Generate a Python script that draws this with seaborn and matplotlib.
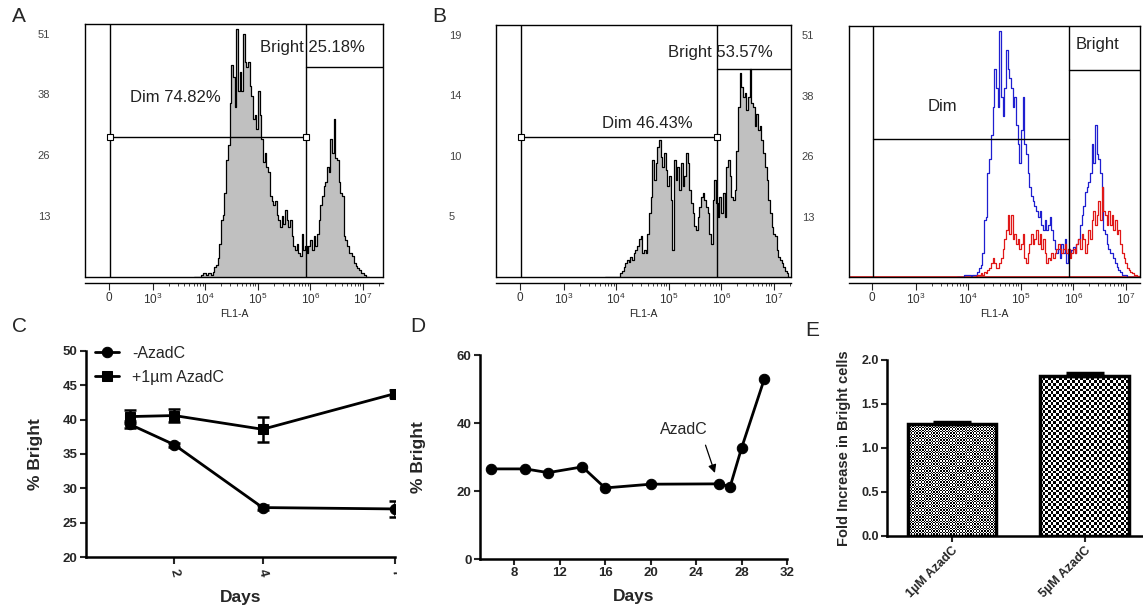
import numpy as np
import pandas as pd
import matplotlib
matplotlib.use("Agg")
import matplotlib.pyplot as plt
import seaborn as sns
from matplotlib.ticker import FixedLocator
from matplotlib.transforms import Bbox, TransformedBbox

sns.set_theme(style="ticks")
plt.rcParams["font.family"] = ["Liberation Sans", "DejaVu Sans"]
plt.rcParams["mathtext.fontset"] = "custom"
plt.rcParams["mathtext.rm"] = "Liberation Sans"
plt.rcParams["mathtext.it"] = "Liberation Sans:italic"
plt.rcParams["mathtext.bf"] = "Liberation Sans:bold"

# %% 1. Data

# FL1-A histograms: events per channel, channels 0.032 decades wide starting at 10^3.79
hist_log_start = 3.79
hist_log_step = 0.032

counts_A = [0, 0, 0, 0, 0.5, 0.8, 0.8, 0.5, 0.8, 0.8, 0.5, 1.0, 2.0, 2.5, 4, 7, 12, 13,
            17.5, 24.5, 27.7, 36.4, 44.5, 42, 35.7, 52, 39, 43, 39, 51, 45, 44, 45, 40,
            38, 33, 34, 31, 39, 34, 29, 24, 26, 23, 22, 17, 16, 15, 16, 13, 12, 10.5,
            12.7, 11, 14, 12, 10.5, 12, 8.5, 6.4, 5.7, 7, 5, 4.3, 9, 5.7, 6.4, 5, 6.4,
            7.8, 5.7, 8.5, 6.4, 9, 12, 15, 17, 19, 20, 23, 22, 29, 26, 33, 25, 24.5, 20,
            17.5, 17, 8.5, 7.8, 6.4, 5, 5, 4.3, 3, 2.2, 1.8, 1.5, 0.8, 0.8, 0.4, 0, 0]

counts_B = [0, 0, 0, 0, 0, 0, 0, 0, 0, 0.3, 0.5, 0.8, 1.1, 1.3, 1.2, 1.6, 1.3, 1.9, 2.1,
            2.4, 3.0, 3.2, 1.9, 2.1, 1.9, 3.4, 5.0, 6.3, 9.2, 7.6, 8.9, 10.2, 10.7, 9.4,
            8.6, 9.7, 8.4, 7.1, 7.9, 6.0, 2.1, 9.2, 7.6, 8.6, 6.8, 8.9, 7.1, 7.9, 9.7,
            8.9, 6.8, 5.8, 5.0, 4.0, 3.7, 4.7, 5.5, 6.3, 6.6, 6.0, 5.5, 5.0, 3.4, 2.6,
            6.0, 7.6, 5.8, 4.7, 6.3, 5.0, 6.6, 4.7, 8.6, 9.2, 7.9, 6.3, 6.0, 6.8, 9.9,
            13.3, 16.0, 14.9, 14.1, 14.4, 13.1, 14.1, 16.3, 13.6, 13.3, 11.8, 12.8, 11.5,
            11.8, 10.7, 9.7, 8.6, 7.6, 6.0, 5.0, 3.9, 3.4, 3.2, 2.1, 1.6, 1.3, 1.1, 0.8,
            0.5, 0.3, 0]

# overlay panel: untreated (blue) and AzadC treated (red)
counts_overlay_ctrl = [0, 0, 0, 0, 0.4, 0.4, 0.4, 0.4, 0.2, 0.5, 0.5, 0.5, 1.0, 2.0, 2.5, 5,
                       12, 12.6, 22, 25, 30, 36, 44, 40, 36, 52, 38, 34, 40, 48, 44, 42, 40,
                       36, 38, 32, 28, 24, 31, 38, 28, 26, 22, 19, 17, 16, 15, 14, 12.6, 14,
                       11, 10, 12, 10, 11, 12.6, 10, 7.8, 6, 5, 6, 4, 7, 5, 8, 3, 6, 5, 5.6,
                       6.4, 5, 7, 8, 11, 13, 15, 18, 19, 20, 22, 28, 24, 32, 26, 25, 22, 19,
                       10, 9, 7, 6, 5, 5, 4, 3, 2.2, 1.5, 1, 0.5, 0.4, 0.4, 0,
                       0, 0, 0, 0, 0, 0, 0, 0, 0]
counts_overlay_aza = [0, 0, 0, 0, 0, 0, 0, 0, 0, 0, 0, 0.2, 0.5, 0.5, 0.8, 0.5, 1.0, 0.8,
                      1.4, 2, 3, 4, 3, 2, 2, 3, 4, 6, 8, 10, 13, 9, 13, 8, 9, 7, 8, 6, 7, 9,
                      4, 3, 5, 7, 9, 7, 8, 10, 7, 9, 6, 8, 5, 3, 4, 3.5, 5, 4, 5, 6, 7, 6,
                      5, 6, 7, 5, 6, 4, 5, 6, 5, 7, 8, 6, 9, 8, 5, 7, 10, 8, 12, 14, 11, 13,
                      16, 12, 19, 14, 13, 11, 14, 11, 13, 10, 12, 9, 10, 7, 5, 4, 3, 2, 1.5,
                      1, 0.8, 0.5, 0.5, 0.3, 0.3, 0.5, 0.3]

flow_xticks = [0, 1e3, 1e4, 1e5, 1e6, 1e7]
flow_xticklabels = ["0", "$10^3$", "$10^4$", "$10^5$", "$10^6$", "$10^7$"]
yticklabels_A = ["13", "26", "38", "51"]
yticklabels_B = ["5", "10", "14", "19"]

# gates
gate_dim_start = 25
gate_bright_start = 8.3e5
gate_text_A = ["Dim 74.82%", "Bright 25.18%"]
gate_text_B = ["Dim 46.43%", "Bright 53.57%"]
gate_text_overlay = ["Dim", "Bright"]

# C: % bright cells over time
days_c = [1, 2, 4, 7]
ctrl_mean = [39.3, 36.35, 27.2, 27.0]
ctrl_err = [0.5, 0.3, 0.3, 1.2]
aza_mean = [40.45, 40.6, 38.6, 43.8]
aza_err = [0.95, 0.9, 1.8, 0.5]
series_c = ["-AzadC", "+1\u00b5m AzadC"]

# D: long time course
days_d = [6, 9, 11, 14, 16, 20, 26, 27, 28, 30]
bright_d = [26.5, 26.5, 25.4, 27.1, 20.9, 22.0, 22.1, 21.3, 32.6, 52.9]

# E: fold increase
conc_labels = ["1\u00b5M AzadC", "5\u00b5M AzadC"]
fold_mean = [1.27, 1.82]
fold_err = [0.025, 0.03]

# %% 2. Layout helpers
W, H = 1143, 607
fig = plt.figure(figsize=(W / 100, H / 100), dpi=100)


def px_rect(l, t, r, b):
    return [l / W, 1 - b / H, (r - l) / W, (b - t) / H]


def hist_edges(n):
    return 10 ** (hist_log_start + hist_log_step * np.arange(n + 1))


def flow_panel(rect, xlim, ylim, ylabels, hists, gate_y, texts, text_pos, squares):
    ax = fig.add_axes(px_rect(*rect))
    for counts, color, filled in hists:
        edges = hist_edges(len(counts))
        steps = list(counts) + [counts[-1]]
        if filled:
            ax.fill_between(edges, steps, step="post", color="#c0c0c0", lw=0)
        sns.lineplot(x=edges, y=steps, drawstyle="steps-post", color=color, linewidth=0.9,
                     estimator=None, sort=False, ax=ax)
    ax.set_xscale("symlog", linthresh=1e3, linscale=0.75)
    ax.set_xlim(*xlim)
    ax.set_ylim(*ylim)
    ax.set_xlabel("FL1-A", fontsize=7.5, labelpad=1, color="#222")
    ax.set_ylabel("")

    # gates
    dim_y, bright_y = gate_y
    ax.axvline(gate_dim_start, color="black", lw=1)
    ax.axvline(gate_bright_start, color="black", lw=1)
    ax.plot([gate_dim_start, gate_bright_start], [dim_y, dim_y], color="black", lw=1)
    ax.plot([gate_bright_start, xlim[1]], [bright_y, bright_y], color="black", lw=1)
    if squares:
        ax.plot([gate_dim_start, gate_bright_start], [dim_y, dim_y], ls="none", marker="s",
                ms=4, mfc="white", mec="black", mew=0.8)
    for txt, (fx, fy) in zip(texts, text_pos):
        ax.text(fx, fy, txt, transform=ax.transAxes, fontsize=12, ha="left", va="center",
                color="#222")

    # axes
    for s in ax.spines.values():
        s.set_linewidth(1)
        s.set_color("black")
    ax.spines["bottom"].set_position(("outward", 4))
    ax.plot([0, 1], [0, 0], transform=ax.transAxes, color="black", lw=1, clip_on=False)
    ax.xaxis.set_major_locator(FixedLocator(flow_xticks))
    ax.set_xticklabels(flow_xticklabels)
    ax.xaxis.set_minor_locator(FixedLocator([k * 10 ** d for d in range(3, 8) for k in range(2, 10)]))
    ax.tick_params(axis="x", which="major", direction="out", length=5, width=0.8,
                   labelsize=8.5, labelcolor="#333", pad=2, bottom=True)
    ax.tick_params(axis="x", which="minor", direction="out", length=2.5, width=0.6, bottom=True)
    top = float(ylabels[-1])
    ax.set_yticks([top * k / 4 for k in range(1, 5)])
    ax.set_yticklabels(ylabels)
    ax.tick_params(axis="y", length=0, pad=34, labelsize=8, labelcolor="#444", left=True)
    for lab in ax.get_yticklabels():
        lab.set_horizontalalignment("left")
    return ax


# %% 3. Flow histograms (A, B, overlay)
flow_panel((85, 24, 383, 277), (-549, 2.43e7), (0, 53), yticklabels_A,
           [(counts_A, "black", True)], (29.3, 44.0), gate_text_A,
           [(0.151, 0.711), (0.587, 0.909)], True)
flow_panel((496, 25, 791, 277), (-549, 2.13e7), (0, 19.75), yticklabels_B,
           [(counts_B, "black", True)], (11.0, 16.3), gate_text_B,
           [(0.359, 0.611), (0.583, 0.889)], True)
ax_ov = flow_panel((849, 26, 1140, 277), (-526, 1.87e7), (0, 53), yticklabels_A,
                   [(counts_overlay_ctrl, "#1f1fd0", False), (counts_overlay_aza, "#e01818", False)],
                   (29.1, 43.7), gate_text_overlay, [(0.271, 0.681), (0.780, 0.928)], False)
ax_ov.axhline(0, color="#e01818", lw=1.2, zorder=0.5)

bold_font = dict(fontsize=12.5, fontweight="bold")

# %% 4. Panel C
ax_c = fig.add_axes(px_rect(86, 351, 395, 557))
df_c = pd.DataFrame({"day": days_c * 2, "bright": ctrl_mean + aza_mean,
                     "err": ctrl_err + aza_err,
                     "group": [series_c[0]] * 4 + [series_c[1]] * 4})
sns.lineplot(data=df_c, x="day", y="bright", style="group", markers=["o", "s"], dashes=False,
             color="black", linewidth=2, markersize=7.5, markeredgecolor="black", ax=ax_c)
for g, d in df_c.groupby("group"):
    ax_c.errorbar(d["day"], d["bright"], yerr=d["err"], fmt="none", ecolor="black",
                  elinewidth=1.8, capsize=4, capthick=1.8)
ax_c.legend(loc="upper left", bbox_to_anchor=(0.03, 1.025), frameon=False, fontsize=11.5,
            handlelength=1.5, handletextpad=0.8, labelspacing=0.55, borderaxespad=0,
            borderpad=0)
ax_c.set_xlim(0, 7)
ax_c.set_ylim(20, 50)
ax_c.set_xticks([2, 4, 7])
ax_c.set_yticks(range(20, 51, 5))
ax_c.set_xlabel("Days", labelpad=8, **bold_font)
ax_c.set_ylabel("% Bright", labelpad=14, **bold_font)
ax_c.tick_params(axis="x", rotation=-75, labelsize=9.5, length=5, width=1.5, pad=3)
ax_c.tick_params(axis="y", labelsize=9.5, length=4, width=1.5, pad=2)
clip = TransformedBbox(Bbox([[0, 0], [397 / W, 1]]), fig.transFigure)
for lab in ax_c.get_xticklabels():
    lab.set_clip_on(True)
    lab.set_clip_box(clip)
sns.despine(ax=ax_c)

# %% 5. Panel D
ax_d = fig.add_axes(px_rect(480, 355, 787, 559))
sns.lineplot(x=days_d, y=bright_d, marker="o", color="black", linewidth=2, markersize=7.5,
             markeredgecolor="black", ax=ax_d)
ax_d.annotate("AzadC", xy=(25.66, 25.3), xytext=(22.9, 38.2), fontsize=11.5, ha="center",
              va="center",
              arrowprops=dict(arrowstyle="-|>", color="black", lw=0.9, mutation_scale=12,
                              relpos=(0.9, 0), shrinkA=4, shrinkB=0))
ax_d.set_xlim(5, 32)
ax_d.set_ylim(0, 60)
ax_d.set_xticks(range(8, 33, 4))
ax_d.set_yticks([0, 20, 40, 60])
ax_d.set_xlabel("Days", labelpad=7, **bold_font)
ax_d.set_ylabel("% Bright", labelpad=22, **bold_font)
ax_d.tick_params(axis="both", labelsize=9.5, length=4, width=1.5, pad=2)
sns.despine(ax=ax_d)

# %% 6. Panel E
ax_e = fig.add_axes(px_rect(887, 360, 1143, 536))
sns.barplot(x=conc_labels, y=fold_mean, width=0.67, color="white", edgecolor="black",
            linewidth=2.5, saturation=1, ax=ax_e)
ax_e.set_xlim(-0.49, 1.44)
ax_e.set_ylim(0, 2.0)
bar_x = [p.get_x() + p.get_width() / 2 for p in ax_e.patches]
ax_e.errorbar(bar_x, fold_mean, yerr=[[0] * len(fold_err), fold_err], fmt="none",
              ecolor="black", elinewidth=2.5, capsize=14, capthick=2.5)
# checkerboard fill, fine for the first bar and coarse for the second
for p, cell in zip(ax_e.patches, [1.4, 2.7]):
    x0, x1 = p.get_x(), p.get_x() + p.get_width()
    (px0, py0), (px1, py1) = ax_e.transData.transform([(x0, 0), (x1, p.get_height())])
    nx, ny = int(round((px1 - px0) / cell)), int(round((py1 - py0) / cell))
    board = np.indices((ny, nx)).sum(axis=0) % 2
    p.set_facecolor("none")
    im = ax_e.imshow(board, cmap="gray", extent=(x0, x1, 0, p.get_height()),
                     interpolation="nearest", aspect="auto", zorder=p.get_zorder() - 0.1)
    im.set_clip_path(p)
ax_e.set_xlim(-0.49, 1.44)
ax_e.set_ylim(0, 2.0)
ax_e.set_yticks([0, 0.5, 1.0, 1.5, 2.0])
ax_e.set_yticklabels(["0.0", "0.5", "1.0", "1.5", "2.0"])
ax_e.set_ylabel("Fold Increase in Bright cells", labelpad=7, fontsize=10.5, fontweight="bold")
ax_e.tick_params(axis="y", labelsize=9, length=4, width=1.5, pad=2)
ax_e.tick_params(axis="x", labelsize=9, length=4, width=1.5, pad=2)
for lab in ax_e.get_xticklabels():
    lab.set_rotation(45)
    lab.set_ha("right")
    lab.set_rotation_mode("anchor")
sns.despine(ax=ax_e)

for ax in (ax_c, ax_d, ax_e):
    for s in ("left", "bottom"):
        ax.spines[s].set_linewidth(1.8)
        ax.spines[s].set_color("black")
    for lab in ax.get_xticklabels() + ax.get_yticklabels():
        lab.set_fontweight("bold")

# panel letters
for letter, x, y in [("A", 12, 16), ("B", 432, 16), ("C", 12, 327), ("D", 410, 326),
                     ("E", 805, 331)]:
    fig.text(x / W, 1 - y / H, letter, fontsize=15, ha="left", va="center")

fig.savefig("out.png", dpi=100)
